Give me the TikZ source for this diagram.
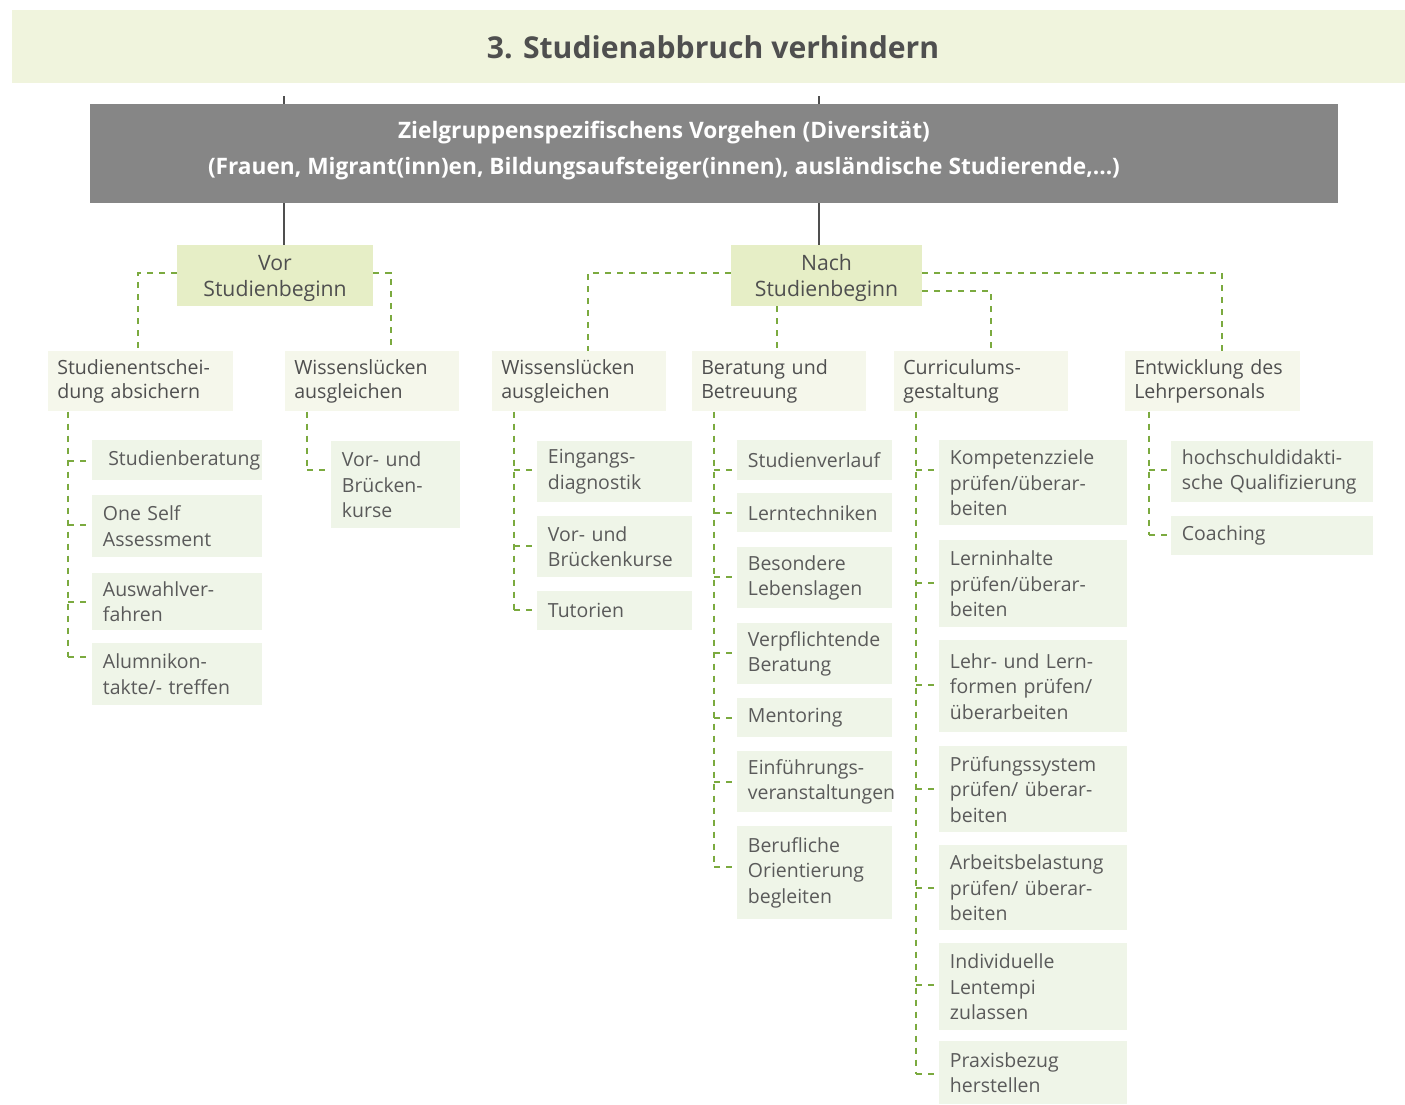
\documentclass[tikz,border=0pt]{standalone}
\usepackage{fontspec}
\setmainfont{Open Sans}
\usetikzlibrary{calc}
\definecolor{bandc}{HTML}{F0F4DD}
\definecolor{barc}{HTML}{868686}
\definecolor{lvonec}{HTML}{E6EEC6}
\definecolor{lvtwoc}{HTML}{F5F7EB}
\definecolor{leafc}{HTML}{EFF5E8}
\definecolor{dashc}{HTML}{7BAA3F}
\definecolor{txtc}{HTML}{4F4F4F}
\definecolor{leaftxt}{HTML}{5A5A5A}
\tikzset{
  dl/.style={draw=dashc, line width=1.1pt, dash pattern=on 4.5pt off 4.5pt},
  gl/.style={draw=txtc, line width=2.2pt},
  lvone/.style={fill=lvonec, inner sep=0pt},
  lvonetext/.style={text=txtc, align=center, inner sep=0pt,
    font=\fontsize{15.9}{19.5}\selectfont},
  lvtwo/.style={fill=lvtwoc, text=txtc, align=left, anchor=north west, inner xsep=6.75pt, inner ysep=0pt,
    font=\fontsize{14.7}{18}\selectfont},
  leaf/.style={fill=leafc, text=leaftxt, align=left, anchor=north west, inner xsep=8pt, inner ysep=0pt,
    font=\fontsize{14.6}{19.1}\selectfont},
}
\newcommand\lvtwonode[4]{\node[lvtwo, minimum width=#3*0.75pt, minimum height=45pt, text width=#3*0.75pt-13.5pt] (#1) at (#2,351) {#4};}
\newcommand\leafnode[6]{\node[leaf, minimum width=#4*0.75pt, minimum height=#5*0.75pt, text width=#4*0.75pt-16pt] (#1) at (#2,#3) {#6};}
\newcommand\brnode[3]{\draw[dl] (#1,#3) -- (#2.west |- #1,#3);}
\begin{document}
\begin{tikzpicture}[x=0.75pt,y=-0.75pt]
\useasboundingbox (0,0) rectangle (1405,1104);
% title band
\path[fill=bandc] (12,10) rectangle (1405,83);
\node[text=txtc, font=\fontsize{22.6}{26}\selectfont\bfseries] (title) at (713,47) {3. Studienabbruch verhindern};
% grey bar
\node[fill=barc, minimum width=936pt, minimum height=74.25pt, inner sep=0pt] (bar) at (714,153.5) {};
\node[text=white, align=center, font=\fontsize{17}{27}\selectfont\bfseries] (bartext) at (664,151)
  {Zielgruppenspezifischens Vorgehen (Diversität)\\(Frauen, Migrant(inn)en, Bildungsaufsteiger(innen), ausländische Studierende,...)};
% level one
\node[lvone, minimum width=147pt, minimum height=45.75pt] (vor) at (275,275.5) {};
\node[lvonetext] (vortext) at (275,278) {Vor\\Studienbeginn};
\node[lvone, minimum width=143.25pt, minimum height=45.75pt] (nach) at (826.5,275.5) {};
\node[lvonetext] (nachtext) at (826.5,278) {Nach\\Studienbeginn};
% grey connectors
\coordinate (ga) at (284,96);
\coordinate (gb) at (819,96);
\draw[gl] (ga) -- (bar.north -| ga);
\draw[gl] (gb) -- (bar.north -| gb);
\draw[gl] (bar.south -| ga) -- (vor.north -| ga);
\draw[gl] (bar.south -| gb) -- (nach.north -| gb);
% level two
\lvtwonode{se}{48}{185}{Studienentschei-\\dung absichern}
\lvtwonode{wla}{285}{174}{Wissenslücken\\ausgleichen}
\lvtwonode{wlb}{492}{174}{Wissenslücken\\ausgleichen}
\lvtwonode{bb}{692}{174}{Beratung und\\Betreuung}
\lvtwonode{cu}{894}{174}{Curriculums-\\gestaltung}
\lvtwonode{el}{1125}{175}{Entwicklung des\\Lehrpersonals}
% dashed connectors level one -> two
\draw[dl] (vor.west |- 0,273) -| (se.north -| 138,0);
\draw[dl] (vor.east |- 0,273) -| (wla.north -| 391,0);
\draw[dl] (nach.west |- 0,273) -| (wlb.north -| 588,0);
\draw[dl] (nach.south -| 777,0) -- (bb.north -| 777,0);
\draw[dl] (nach.east |- 0,291) -| (cu.north -| 991,0);
\draw[dl] (nach.east |- 0,273) -| (el.north -| 1222,0);
% column 1
\leafnode{ca}{92}{440}{170}{40}{\hspace*{4pt}\mbox{Studienberatung}}
\leafnode{cb}{92}{495}{170}{62}{One Self\\Assessment}
\leafnode{cc}{92}{573}{170}{57}{Auswahlver-\\fahren}
\leafnode{cd}{92}{643}{170}{62}{Alumnikon-\\takte/- treffen}
\draw[dl] (se.south -| 68,0) -- (68,657);
\brnode{68}{ca}{461}\brnode{68}{cb}{525}\brnode{68}{cc}{602}\brnode{68}{cd}{657}
% column 2
\leafnode{da}{331}{441}{129}{87}{Vor- und\\Brücken-\\kurse}
\draw[dl] (wla.south -| 307,0) -- (307,470);
\brnode{307}{da}{470}
% column 3
\leafnode{ea}{537}{441}{155}{61}{Eingangs-\\diagnostik}
\leafnode{eb}{537}{516}{155}{61}{Vor- und\\\mbox{Brückenkurse}}
\leafnode{ec}{537}{591}{155}{39}{Tutorien}
\draw[dl] (wlb.south -| 514,0) -- (514,610);
\brnode{514}{ea}{470}\brnode{514}{eb}{546}\brnode{514}{ec}{610}
% column 4
\leafnode{fa}{737}{440}{155}{40}{\mbox{Studienverlauf}}
\leafnode{fb}{737}{493}{155}{39}{\mbox{Lerntechniken}}
\leafnode{fc}{737}{547}{155}{61}{Besondere\\Lebenslagen}
\leafnode{fd}{737}{623}{155}{61}{\mbox{Verpflichtende}\\Beratung}
\leafnode{fe}{737}{698}{155}{39}{Mentoring}
\leafnode{ff}{737}{751}{155}{61}{Einführungs-\\\mbox{veranstaltungen}}
\leafnode{fg}{737}{826}{155}{93}{Berufliche\\Orientierung\\begleiten}
\draw[dl] (bb.south -| 714,0) -- (714,867);
\brnode{714}{fa}{470}\brnode{714}{fb}{513}\brnode{714}{fc}{577}\brnode{714}{fd}{653}
\brnode{714}{fe}{718}\brnode{714}{ff}{782}\brnode{714}{fg}{867}
% column 5
\leafnode{ga}{939}{440}{188}{85}{\mbox{Kompetenzziele}\\prüfen/überar-\\beiten}
\leafnode{gb}{939}{540}{188}{87}{Lerninhalte\\prüfen/überar-\\beiten}
\leafnode{gc}{939}{640}{188}{92}{Lehr- und Lern-\\formen prüfen/\\überarbeiten}
\leafnode{gd}{939}{746}{188}{86}{\mbox{Prüfungssystem}\\prüfen/ überar-\\beiten}
\leafnode{ge}{939}{845}{188}{85}{\mbox{Arbeitsbelastung}\\prüfen/ überar-\\beiten}
\leafnode{gf}{939}{943}{188}{87}{Individuelle\\Lentempi\\zulassen}
\leafnode{gg}{939}{1041}{188}{63}{Praxisbezug\\herstellen}
\draw[dl] (cu.south -| 916,0) -- (916,1074);
\brnode{916}{ga}{470}\brnode{916}{gb}{583}\brnode{916}{gc}{685}\brnode{916}{gd}{789}
\brnode{916}{ge}{888}\brnode{916}{gf}{985}\brnode{916}{gg}{1074}
% column 6
\leafnode{ha}{1171}{441}{202}{61}{hochschuldidakti-\\\mbox{sche Qualifizierung}}
\leafnode{hb}{1171}{516}{202}{39}{Coaching}
\draw[dl] (el.south -| 1149,0) -- (1149,535);
\brnode{1149}{ha}{470}\brnode{1149}{hb}{535}
\end{tikzpicture}
\end{document}
